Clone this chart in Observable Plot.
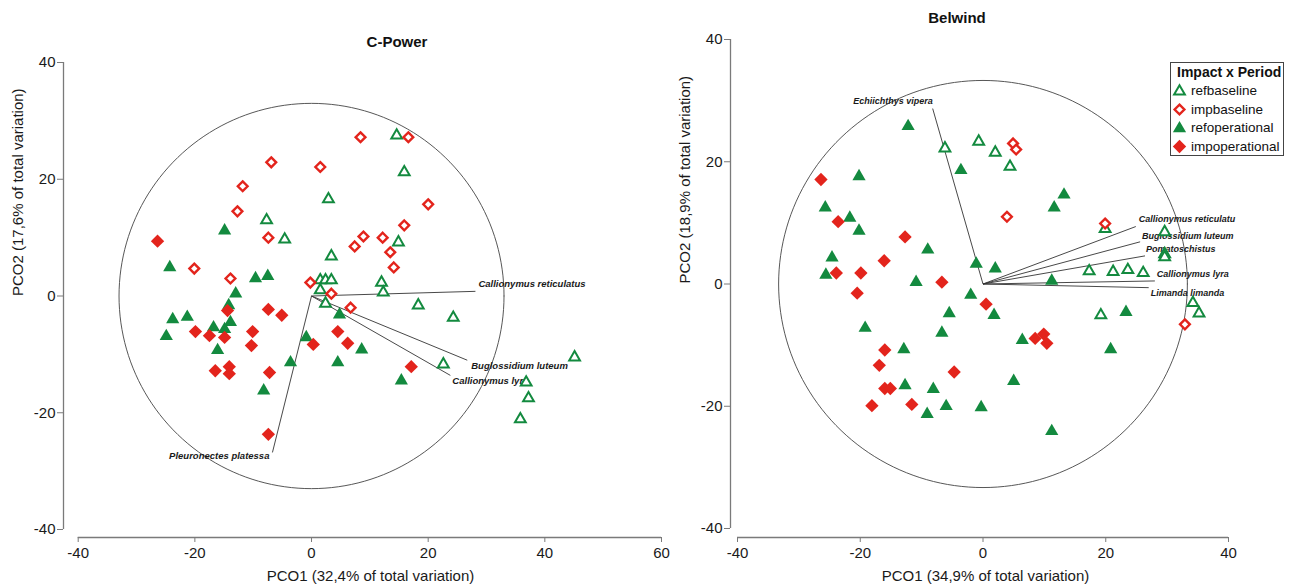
<!DOCTYPE html>
<html><head><meta charset="utf-8">
<script src="https://cdn.jsdelivr.net/npm/d3@7"></script>
<script src="https://cdn.jsdelivr.net/npm/@observablehq/plot@0.6"></script>
<style>
body{margin:0;background:#fff;font-family:"Liberation Sans",Arial,sans-serif;}
#wrap{position:relative;width:1290px;height:587px;overflow:hidden;background:#fff;}
.panel{position:absolute;top:0;}
.title{position:absolute;font-weight:bold;font-size:15px;color:#111;transform:translate(-50%,-50%);white-space:nowrap;}
.legend{position:absolute;left:1170px;top:62px;width:114px;height:94px;border:1px solid #444;box-sizing:border-box;background:#fff;color:#111;}
.legend .lt{font-weight:bold;font-size:14px;line-height:17px;padding-left:6px;margin-top:1px;}
.legend .row{display:flex;align-items:center;height:18.8px;font-size:13.5px;}
.legend .row svg{margin-left:1px;margin-right:4px;}
</style></head><body><div id="wrap"></div>
<script>
// ---------------- data ----------------
const groupNames = ["refbaseline", "impbaseline", "refoperational", "impoperational"];
const legendTitle = "Impact x Period";

const leftTitle = "C-Power";
const leftXLabel = "PCO1 (32,4% of total variation)";
const leftYLabel = "PCO2 (17,6% of total variation)";
const leftXTicks = [-40, -20, 0, 20, 40, 60];
const leftYTicks = [-40, -20, 0, 20, 40];

const rightTitle = "Belwind";
const rightXLabel = "PCO1 (34,9% of total variation)";
const rightYLabel = "PCO2 (18,9% of total variation)";
const rightXTicks = [-40, -20, 0, 20, 40];
const rightYTicks = [-40, -20, 0, 20, 40];

// C-Power scores [PCO1, PCO2]
const cpRefBaseline = [[14.6,27.5],[15.9,21.2],[2.9,16.6],[-7.7,13.0],[-4.6,9.7],[3.4,6.8],[14.9,9.2],[1.5,2.7],[2.4,2.7],[3.4,2.7],[12.0,2.3],[12.3,0.6],[1.5,1.0],[2.4,-1.3],[18.3,-1.6],[24.3,-3.7],[22.6,-11.7],[45.1,-10.5],[36.8,-14.8],[37.2,-17.5],[35.8,-21.1]];
const cpImpBaseline = [[8.4,27.2],[16.6,27.2],[-6.9,22.9],[1.5,22.1],[-11.8,18.8],[-12.7,14.5],[20.0,15.7],[15.9,12.1],[-7.4,10.0],[8.9,10.2],[12.2,10.0],[7.4,8.5],[13.5,7.5],[14.1,4.9],[-20.1,4.7],[-13.9,3.0],[-0.2,2.3],[3.4,0.4],[6.7,-2.0]];
const cpRefOperational = [[-14.9,11.2],[-24.3,4.9],[-9.6,3.0],[-7.5,3.4],[-13.0,0.4],[-14.2,-1.6],[-23.8,-4.0],[-21.3,-3.6],[-13.9,-4.5],[-16.8,-5.4],[-14.9,-5.7],[-24.9,-6.9],[-16.1,-9.3],[-0.9,-7.1],[4.8,-3.2],[8.6,-9.2],[4.5,-11.4],[-3.6,-11.4],[-8.2,-16.2],[15.4,-14.5]];
const cpImpOperational = [[-26.4,9.4],[-14.4,-2.5],[-7.4,-2.3],[-5.1,-3.3],[-19.9,-6.1],[-17.5,-6.8],[-14.9,-7.1],[-10.1,-6.1],[-10.3,-8.5],[-16.5,-12.8],[-14.1,-12.1],[-14.1,-13.3],[-7.2,-13.1],[-7.4,-23.7],[0.3,-8.3],[4.5,-6.1],[6.2,-8.1],[17.1,-12.1]];
const cpVectorNames = ["Callionymus reticulatus", "Buglossidium luteum", "Callionymus lyra", "Pleuronectes platessa"];
const cpVectorX = [28.1, 26.7, 23.8, -6.7];
const cpVectorY = [0.8, -11.0, -13.6, -26.8];
const cpCircleRadius = 33;

// Belwind scores [PCO1, PCO2]
const bwRefBaseline = [[-6.2,22.2],[-0.7,23.3],[2.0,21.5],[4.4,19.2],[19.9,9.0],[29.6,8.5],[29.6,4.9],[29.6,4.4],[17.3,2.1],[21.2,2.0],[23.6,2.3],[26.1,1.8],[34.2,-3.1],[35.2,-4.8],[19.2,-5.1]];
const bwImpBaseline = [[4.9,23.0],[5.4,22.0],[3.9,11.0],[19.9,9.9],[32.9,-6.6]];
const bwRefOperational = [[-12.2,25.8],[-3.6,18.6],[-20.2,17.6],[-25.7,12.5],[-21.7,10.8],[-20.2,8.7],[-9.0,5.6],[-24.6,4.3],[-25.6,1.5],[-10.9,0.3],[-1.1,3.3],[2.0,2.5],[13.2,14.6],[11.6,12.5],[11.2,0.5],[-2.0,-1.8],[-5.5,-4.8],[1.8,-5.1],[-19.2,-7.2],[-6.7,-8.0],[6.4,-9.2],[-12.9,-10.7],[-12.7,-16.6],[-8.1,-17.2],[5.0,-15.9],[-6.0,-20.0],[-0.3,-20.2],[-9.1,-21.3],[23.3,-4.6],[20.8,-10.7],[11.2,-24.1]];
const bwImpOperational = [[-26.4,17.1],[-23.6,10.2],[-12.7,7.7],[-16.1,3.8],[-23.9,1.8],[-19.9,1.8],[-6.7,0.3],[-20.5,-1.5],[0.5,-3.3],[-16.0,-10.8],[-16.9,-13.3],[-4.7,-14.4],[-16.0,-17.1],[-15.1,-17.1],[-18.1,-19.9],[-11.6,-19.7],[8.5,-8.9],[9.9,-8.2],[10.4,-9.7]];
const bwVectorNames = ["Echiichthys vipera", "Callionymus reticulatu", "Buglossidium luteum", "Pomatoschistus", "Callionymus lyra", "Limanda limanda"];
const bwVectorX = [-8.2, 24.9, 25.6, 26.4, 28.0, 27.0];
const bwVectorY = [28.7, 9.4, 6.9, 4.6, 0.5, -0.6];
const bwCircleRadius = 33.3;

// ---------------- styles ----------------
const GREEN = "#138a3f", RED = "#e3241c", AXIS = "#7a7a7a", INK = "#1a1a1a";
const groupStyle = {
  refbaseline:    {symbol: "triangle", r: 4.0, fill: "white", stroke: GREEN, strokeWidth: 2},
  impbaseline:    {symbol: "diamond2", r: 4.4, fill: "white", stroke: RED, strokeWidth: 2.4},
  refoperational: {symbol: "triangle", r: 4.9, fill: GREEN, stroke: "none", strokeWidth: 0},
  impoperational: {symbol: "diamond2", r: 6.0, fill: RED, stroke: "none", strokeWidth: 0}
};
// label placement (style only)
const cpLabelStyle = [{anchor: "start", dx: 3, dy: -7}, {anchor: "start", dx: 4, dy: 6}, {anchor: "start", dx: 2, dy: 6}, {anchor: "end", dx: -3, dy: 4}];
const bwLabelStyle = [{anchor: "end", dx: 0, dy: -7}, {anchor: "start", dx: 3, dy: -7}, {anchor: "start", dx: 2, dy: -6}, {anchor: "start", dx: 1, dy: -7}, {anchor: "start", dx: 2, dy: -7}, {anchor: "start", dx: 2, dy: 5}];

const rows = (pairs, group) => pairs.map(([x, y]) => ({x, y, group}));
const vectors = (names, xs, ys) => names.map((name, i) => ({name, x: xs[i], y: ys[i], i}));
const circle = (radius) => d3.range(0, 361, 2).map(a => ({x: radius * Math.cos(a * Math.PI / 180), y: radius * Math.sin(a * Math.PI / 180)}));

function panel(cfg) {
  const series = [
    rows(cfg.refBaseline, "refbaseline"),
    rows(cfg.impBaseline, "impbaseline"),
    rows(cfg.refOperational, "refoperational"),
    rows(cfg.impOperational, "impoperational")
  ];
  const vecs = vectors(cfg.vecNames, cfg.vecX, cfg.vecY);
  const xMin = d3.min(cfg.xTicks), xMax = d3.max(cfg.xTicks);
  const yMin = d3.min(cfg.yTicks), yMax = d3.max(cfg.yTicks);
  const dotMarks = series.map((data, k) => {
    const s = groupStyle[groupNames[k]];
    return Plot.dot(data, {x: "x", y: "y", symbol: s.symbol, r: s.r, fill: s.fill, stroke: s.stroke, strokeWidth: s.strokeWidth, strokeLinejoin: "miter"});
  });
  const labelMarks = vecs.map((v, i) => {
    const st = cfg.labelStyle[i];
    return Plot.text([v], {x: "x", y: "y", text: "name", textAnchor: st.anchor, dx: st.dx, dy: st.dy,
      fontSize: cfg.vecFont, fontStyle: "italic", fontWeight: "bold", fill: INK});
  });
  return Plot.plot({
    width: cfg.width, height: 587,
    marginLeft: cfg.marginLeft, marginRight: cfg.marginRight, marginTop: cfg.marginTop, marginBottom: 50,
    x: {domain: [xMin, xMax], insetLeft: cfg.insetLeft},
    y: {domain: [yMin, yMax], insetBottom: cfg.insetBottom},
    style: {background: "transparent", fontFamily: "'Liberation Sans', Arial, sans-serif", color: INK, overflow: "visible"},
    marks: [
      Plot.line(circle(cfg.circleRadius), {x: "x", y: "y", stroke: "#444", strokeWidth: 0.9}),
      Plot.link(vecs, {x1: () => 0, y1: () => 0, x2: "x", y2: "y", stroke: "#333", strokeWidth: 0.9}),
      ...labelMarks,
      ...dotMarks,
      Plot.ruleX([xMin], {y1: yMin, y2: yMax, dx: -cfg.insetLeft, stroke: AXIS, strokeWidth: 1.3}),
      Plot.ruleY([yMin], {x1: xMin, x2: xMax, dy: cfg.insetBottom, stroke: AXIS, strokeWidth: 1.3}),
      Plot.axisX({ticks: cfg.xTicks, tickFormat: d => `${d}`, tickSize: 5, tickPadding: 5, fontSize: 15, stroke: AXIS, label: null}),
      Plot.axisY({ticks: cfg.yTicks, tickFormat: d => `${d}`, tickSize: 6, tickPadding: 2, fontSize: 15, stroke: AXIS, label: null}),
      Plot.text([cfg.xLabel], {frameAnchor: "bottom", dy: 39, dx: cfg.xLabelDx, fontSize: 15, fill: INK, lineAnchor: "middle"}),
      Plot.text([cfg.yLabel], {frameAnchor: "left", dx: -45, dy: cfg.yLabelDy, rotate: -90, fontSize: 15, fill: INK, lineAnchor: "middle"})
    ]
  });
}

const wrap = d3.select("#wrap");

const left = panel({
  width: 680, marginLeft: 63, marginRight: 19, marginTop: 62, insetLeft: 14.7, insetBottom: 8,
  xTicks: leftXTicks, yTicks: leftYTicks, xLabel: leftXLabel, yLabel: leftYLabel, xLabelDx: 8, yLabelDy: -4,
  refBaseline: cpRefBaseline, impBaseline: cpImpBaseline, refOperational: cpRefOperational, impOperational: cpImpOperational,
  vecNames: cpVectorNames, vecX: cpVectorX, vecY: cpVectorY, labelStyle: cpLabelStyle, vecFont: 9.5, circleRadius: cpCircleRadius
});
const right = panel({
  width: 630, marginLeft: 70, marginRight: 62, marginTop: 39, insetLeft: 7, insetBottom: 9,
  xTicks: rightXTicks, yTicks: rightYTicks, xLabel: rightXLabel, yLabel: rightYLabel, xLabelDx: 6, yLabelDy: -5,
  refBaseline: bwRefBaseline, impBaseline: bwImpBaseline, refOperational: bwRefOperational, impOperational: bwImpOperational,
  vecNames: bwVectorNames, vecX: bwVectorX, vecY: bwVectorY, labelStyle: bwLabelStyle, vecFont: 9, circleRadius: bwCircleRadius
});

const lp = wrap.append("div").attr("class", "panel").style("left", "0px");
lp.node().appendChild(left);
const rp = wrap.append("div").attr("class", "panel").style("left", "660px");
rp.node().appendChild(right);

wrap.append("div").attr("class", "title").style("left", "397px").style("top", "41px").text(leftTitle);
wrap.append("div").attr("class", "title").style("left", "957px").style("top", "17px").text(rightTitle);

// legend
const legend = wrap.append("div").attr("class", "legend");
legend.append("div").attr("class", "lt").text(legendTitle);
const d3sym = {triangle: d3.symbolTriangle, diamond2: d3.symbolDiamond2};
groupNames.forEach(g => {
  const s = groupStyle[g];
  const row = legend.append("div").attr("class", "row");
  const svg = row.append("svg").attr("width", 15).attr("height", 15);
  svg.append("path")
    .attr("transform", s.symbol === "triangle" ? "translate(7.5,8.5)" : "translate(7.5,7.5)")
    .attr("d", d3.symbol(d3sym[s.symbol], Math.PI * s.r * s.r)())
    .attr("fill", s.fill).attr("stroke", s.stroke).attr("stroke-width", s.strokeWidth);
  row.append("span").text(g);
});
</script>
</body></html>
